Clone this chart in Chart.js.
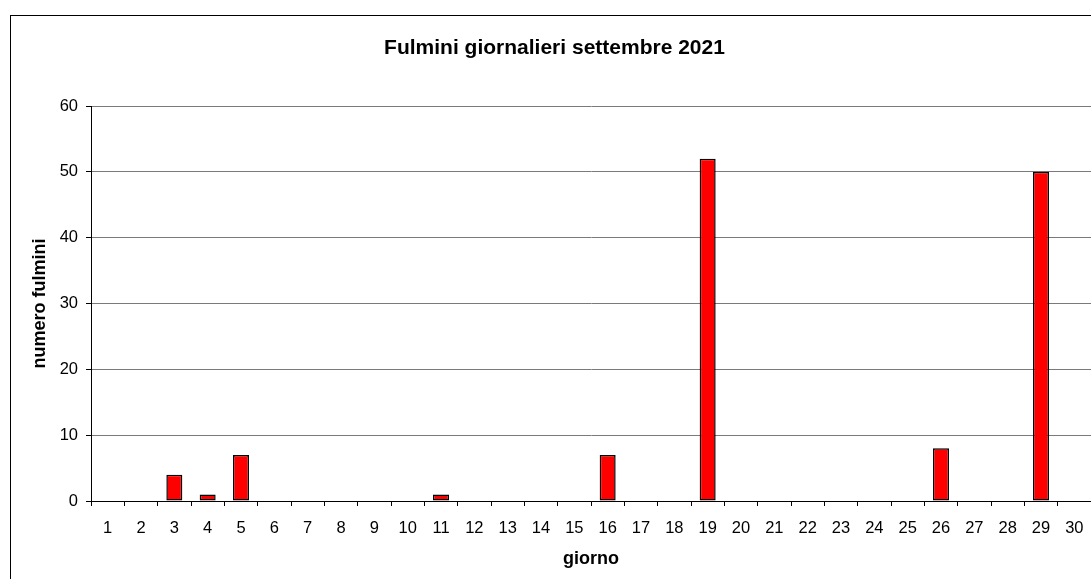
<!DOCTYPE html>
<html>
<head>
<meta charset="utf-8">
<script src="https://cdn.jsdelivr.net/npm/chart.js@4/dist/chart.umd.min.js"></script>
<style>
  html, body { margin: 0; padding: 0; background: #fff; overflow: hidden; }
  #wrap { width: 1091px; height: 579px; overflow: hidden; position: relative; }
  #chart { position: absolute; left: 0; top: 0; }
</style>
</head>
<body>
<div id="wrap"><canvas id="chart" width="1100" height="579"></canvas></div>
<script>
/* ==== dati ==== */
const giorni = ["1","2","3","4","5","6","7","8","9","10","11","12","13","14","15",
                "16","17","18","19","20","21","22","23","24","25","26","27","28","29","30"];
const fulmini = [0,0,4,1,7,0,0,0,0,0,1,0,0,0,0,7,0,0,52,0,0,0,0,0,0,8,0,0,50,0];
const yTicks = [0,10,20,30,40,50,60];

const FONT = "'Liberation Sans', Arial, sans-serif";

// cornice esterna del grafico (stile Excel)
const boxPlugin = {
  id: 'box',
  beforeDraw(chart) {
    const ctx = chart.ctx;
    ctx.save();
    ctx.fillStyle = '#fff';
    ctx.fillRect(0, 0, chart.width, chart.height);
    ctx.strokeStyle = '#000';
    ctx.lineWidth = 1;
    ctx.strokeRect(10.5, 15.5, 3000, 3000);
    ctx.restore();
  }
};

new Chart(document.getElementById("chart"), {
  type: 'bar',
  data: {
    labels: giorni,
    datasets: [{
      data: fulmini,
      backgroundColor: '#FF0000',
      borderColor: '#000',
      borderWidth: 1.5,
      borderSkipped: false,
      inflateAmount: 0,
      categoryPercentage: 1,
      barPercentage: 0.48
    }]
  },
  options: {
    responsive: false,
    animation: false,
    layout: { padding: { left: 18, right: 9, top: 0, bottom: 0 } },
    plugins: {
      legend: { display: false },
      tooltip: { enabled: false },
      title: {
        display: true,
        text: 'Fulmini giornalieri settembre 2021',
        color: '#000',
        font: { family: FONT, size: 21, weight: 'bold' },
        padding: { top: 35.4, bottom: 45.4 }
      }
    },
    scales: {
      x: {
        afterFit: s => { s.height = 78; },
        grid: { drawOnChartArea: false, tickLength: 5, tickColor: '#000', offset: true },
        border: { color: '#000', width: 1 },
        ticks: { color: '#000', padding: 13, font: { family: FONT, size: 16.5 }, maxRotation: 0, autoSkip: false },
        title: {
          display: true, text: 'giorno', color: '#000',
          font: { family: FONT, size: 18, weight: 'bold' },
          padding: { top: 0, bottom: 9 }
        }
      },
      y: {
        min: 0, max: 60,
        afterFit: s => { s.width = 73; },
        afterBuildTicks: s => { s.ticks = yTicks.map(v => ({ value: v })); },
        grid: {
          color: ctx => ctx.tick && ctx.tick.value === 0 ? '#000' : '#7a7a7a',
          tickColor: '#000',
          tickLength: 5,
          lineWidth: 1
        },
        border: { color: '#000', width: 1 },
        ticks: { color: '#000', padding: 8, font: { family: FONT, size: 16.5 } },
        title: {
          display: true, text: 'numero fulmini', color: '#000',
          font: { family: FONT, size: 18, weight: 'bold' },
          padding: { top: 11, bottom: 0 }
        }
      }
    }
  },
  plugins: [boxPlugin]
});
</script>
</body>
</html>
